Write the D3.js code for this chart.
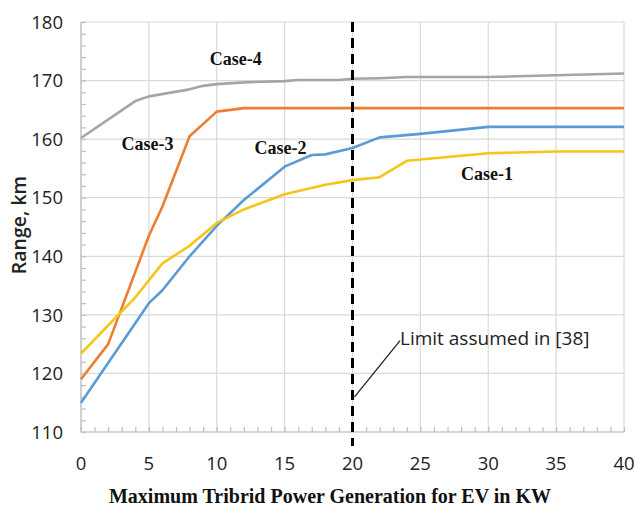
<!DOCTYPE html>
<html>
<head>
<meta charset="utf-8">
<script src="https://cdn.jsdelivr.net/npm/d3@7"></script>
<style>
  body { margin: 0; background: #fff; }
  svg { display: block; }
</style>
</head>
<body>
<div id="chart"></div>
<script>
// values (kW -> km)
const case1X = [0, 4, 6, 8, 10, 12, 15, 18, 20, 22, 24, 30, 35, 40];
const case1Y = [123.4, 133, 138.8, 141.8, 145.7, 148, 150.6, 152.2, 153, 153.5, 156.3, 157.6, 157.9, 157.9];

const case2X = [0, 5, 6, 8, 10, 12, 15, 17, 18, 20, 22, 25, 30, 35, 40];
const case2Y = [115, 132, 134.2, 140, 145.2, 149.6, 155.3, 157.3, 157.4, 158.5, 160.3, 160.9, 162.1, 162.1, 162.1];

const case3X = [0, 2, 5, 6, 8, 10, 12, 15, 20, 25, 30, 35, 40];
const case3Y = [119, 125, 143.5, 148.5, 160.5, 164.7, 165.3, 165.3, 165.3, 165.3, 165.3, 165.3, 165.3];

const case4X = [0, 4, 5, 8, 9, 10, 12, 15, 16, 19, 20, 22, 24, 30, 35, 40];
const case4Y = [160.2, 166.5, 167.3, 168.5, 169.1, 169.4, 169.7, 169.9, 170.1, 170.1, 170.3, 170.4, 170.6, 170.6, 170.9, 171.2];

const caseNames = ["Case-1", "Case-2", "Case-3", "Case-4"];
const caseColors = ["#f5c518", "#5b9bd5", "#ed7d31", "#a5a5a5"];
// label anchor points (x, y in data units)
const caseLabelX = [29.9, 14.7, 4.9, 11.4];
const caseLabelY = [153, 157.4, 158.2, 172.6];

const xTicks = [0, 5, 10, 15, 20, 25, 30, 35, 40];
const yTicks = [110, 120, 130, 140, 150, 160, 170, 180];
const limitX = 20;
const limitText = "Limit assumed in [38]";

const width = 635, height = 511;
const margin = { top: 22, right: 11, bottom: 79, left: 81 };

const svg = d3.select("#chart").append("svg")
    .attr("width", width)
    .attr("height", height);

const x = d3.scaleLinear().domain([0, 40]).range([margin.left, width - margin.right]);
const y = d3.scaleLinear().domain([110, 180]).range([height - margin.bottom, margin.top]);

const grid = svg.append("g").attr("class", "grid");

grid.selectAll("line.v")
    .data(xTicks)
    .enter().append("line")
    .attr("class", "v")
    .attr("x1", d => x(d)).attr("x2", d => x(d))
    .attr("y1", y(110)).attr("y2", y(180))
    .attr("stroke", "#d9d9d9")
    .attr("stroke-width", 1.2);

grid.selectAll("line.h")
    .data(yTicks)
    .enter().append("line")
    .attr("class", "h")
    .attr("x1", x(0)).attr("x2", x(40))
    .attr("y1", d => y(d)).attr("y2", d => y(d))
    .attr("stroke", "#d9d9d9")
    .attr("stroke-width", 1.2);

// axes with minor ticks pointing inward
const xMinor = d3.range(0, 41, 1);
const yMinor = d3.range(110, 181, 2);

svg.append("g")
    .attr("transform", "translate(0," + y(110) + ")")
    .call(d3.axisTop(x).tickValues(xMinor).tickSize(5).tickFormat(""))
    .call(g => g.selectAll("line, path").attr("stroke", "#bfbfbf").attr("stroke-width", 1.2))
    .call(g => g.select(".domain").attr("d", "M" + x(0) + ",0H" + x(40)));

svg.append("g")
    .attr("transform", "translate(" + x(0) + ",0)")
    .call(d3.axisRight(y).tickValues(yMinor).tickSize(5).tickFormat(""))
    .call(g => g.selectAll("line, path").attr("stroke", "#bfbfbf").attr("stroke-width", 1.2))
    .call(g => g.select(".domain").attr("d", "M0," + y(110) + "V" + y(180)));

// tick labels
svg.append("g").selectAll("text")
    .data(xTicks)
    .enter().append("text")
    .attr("x", d => x(d))
    .attr("y", 470)
    .attr("text-anchor", "middle")
    .style("font-family", "'Open Sans', sans-serif")
    .style("font-size", "18.5px")
    .attr("fill", "#222")
    .text(d => d);

svg.append("g").selectAll("text")
    .data(yTicks)
    .enter().append("text")
    .attr("x", 63)
    .attr("y", d => y(d))
    .attr("dy", "0.36em")
    .attr("text-anchor", "end")
    .style("font-family", "'Open Sans', sans-serif")
    .style("font-size", "18.5px")
    .attr("fill", "#222")
    .text(d => d);

// axis titles
svg.append("text")
    .attr("transform", "translate(26,225) rotate(-90)")
    .attr("text-anchor", "middle")
    .style("font-family", "'Open Sans', sans-serif")
    .style("font-size", "19.5px")
    .style("font-weight", "600")
    .attr("fill", "#222")
    .text("Range, km");

svg.append("text")
    .attr("x", 330)
    .attr("y", 503)
    .attr("text-anchor", "middle")
    .style("font-family", "'Liberation Serif', 'Times New Roman', serif")
    .style("font-size", "20px")
    .style("font-weight", "bold")
    .attr("fill", "#111")
    .text("Maximum Tribrid Power Generation for EV in KW");

// series
const seriesX = [case1X, case2X, case3X, case4X];
const seriesY = [case1Y, case2Y, case3Y, case4Y];

const line = d3.line()
    .x(d => x(d[0]))
    .y(d => y(d[1]));

// draw case-4 first so the order matches the picture
[3, 2, 1, 0].forEach(i => {
    const pts = seriesX[i].map((v, j) => [v, seriesY[i][j]]);
    svg.append("path")
        .datum(pts)
        .attr("fill", "none")
        .attr("stroke", caseColors[i])
        .attr("stroke-width", 2.6)
        .attr("stroke-linejoin", "round")
        .attr("d", line);
});

// limit line
svg.append("line")
    .attr("x1", x(limitX)).attr("x2", x(limitX))
    .attr("y1", y(180)).attr("y2", y(110) + 14)
    .attr("stroke", "#000")
    .attr("stroke-width", 3)
    .attr("stroke-dasharray", "10,6");

// case labels
svg.append("g").selectAll("text")
    .data(caseNames)
    .enter().append("text")
    .attr("x", (d, i) => x(caseLabelX[i]))
    .attr("y", (d, i) => y(caseLabelY[i]))
    .attr("text-anchor", "middle")
    .style("font-family", "'Liberation Serif', 'Times New Roman', serif")
    .style("font-size", "18px")
    .style("font-weight", "bold")
    .attr("fill", "#111")
    .text(d => d);

// annotation
svg.append("line")
    .attr("x1", x(20.15)).attr("y1", y(116))
    .attr("x2", x(23.5)).attr("y2", y(125.6))
    .attr("stroke", "#222")
    .attr("stroke-width", 1.3);

svg.append("text")
    .attr("x", x(23.5))
    .attr("y", y(124.8))
    .style("font-family", "'Open Sans', sans-serif")
    .style("font-size", "19px")
    .attr("fill", "#222")
    .text(limitText);
</script>
</body>
</html>
